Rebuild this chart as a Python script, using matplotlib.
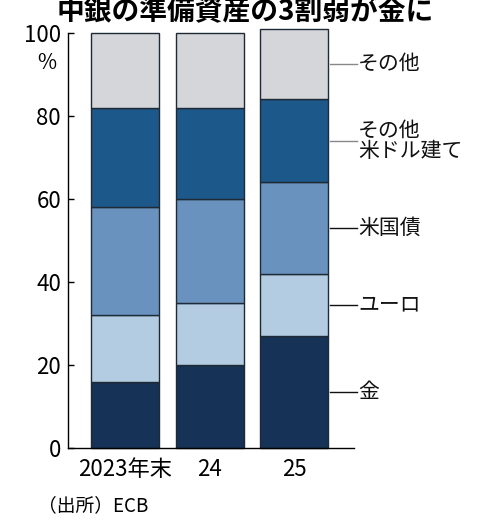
import numpy as np
import matplotlib.pyplot as plt

plt.rcParams['font.family'] = ['Liberation Sans Narrow', 'Noto Sans CJK JP', 'DejaVu Sans']

# DATA
years = ['2023年末', '24', '25']
gold = [16, 20, 27]
euro = [16, 15, 15]
ust = [26, 25, 22]
other_usd = [24, 22, 20]
other = [18, 18, 17]

series = [gold, euro, ust, other_usd, other]
names = ['金', 'ユーロ', '米国債', 'その他\n米ドル建て', 'その他']
colors = ['#173257', '#b3cce1', '#6993be', '#1d588b', '#d4d6da']
leader_colors = ['#111111', '#111111', '#111111', '#888888', '#888888']
cjk = ['Noto Sans CJK JP', 'DejaVu Sans']

fig = plt.figure(figsize=(4.78, 5.2), dpi=100)
ax = fig.add_axes([0.1423, 0.1385, 0.5983, 0.798])

x = np.arange(len(years))
bottom = np.zeros(len(years))
for vals, col in zip(series, colors):
    ax.bar(x, vals, bottom=bottom, width=0.805, color=col,
           edgecolor='#1e2a36', linewidth=1.0, clip_on=False, zorder=2)
    bottom += np.array(vals)

# labels to the right of the last bar
base = 0
for vals, name, lc in zip(series, names, leader_colors):
    mid = base + vals[-1] / 2
    base += vals[-1]
    ax.plot([2.43, 2.75], [mid, mid], color=lc, lw=1.0, clip_on=False)
    ax.text(2.76, mid, name, fontsize=15, va='center', ha='left',
            linespacing=0.85, color='#111111', family=cjk)

ax.set_xlim(-0.675, 2.71)
ax.set_ylim(0, 100)
ax.set_yticks([0, 20, 40, 60, 80, 100])
ax.set_xticks(x)
ax.set_xticklabels(years)
ax.tick_params(axis='y', direction='in', length=4, width=1, labelsize=16, pad=5)
ax.tick_params(axis='x', length=0, labelsize=16, pad=7)
for s in ['top', 'right']:
    ax.spines[s].set_visible(False)
ax.spines['left'].set_linewidth(1.0)
ax.spines['bottom'].set_linewidth(1.0)

fig.text(0.078, 0.878, '%', fontsize=15, ha='left', va='center')
fig.text(0.512, 0.976, '中銀の準備資産の3割弱が金に', fontsize=20,
         fontweight='bold', ha='center', va='center', family=cjk)
fig.text(0.08, 0.028, '（出所）ECB', fontsize=13.5, ha='left', va='center',
         family=cjk)

plt.savefig('out.png', dpi=100)
